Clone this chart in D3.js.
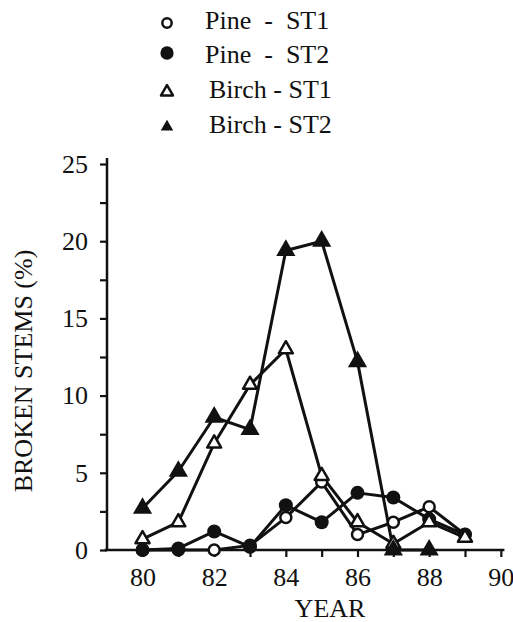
<!DOCTYPE html>
<html><head><meta charset="utf-8">
<script src="https://cdn.jsdelivr.net/npm/d3@7"></script>
<style>body{margin:0;background:#fff}svg{display:block}</style>
</head><body><svg id="c" width="513" height="622" font-family="Liberation Serif"></svg>
<script>
const years = [80,81,82,83,84,85,86,87,88,89];
const pineST1 = [0, 0, 0, 0.3, 2.1, 4.4, 1.0, 1.8, 2.8, 1.0];
const pineST2 = [0, 0.1, 1.2, 0.2, 2.9, 1.8, 3.7, 3.4, 2.0, 1.0];
const birchST1 = [0.7, 1.8, 6.9, 10.7, 13.0, 4.8, 1.8, 0.4, 1.8, 0.8];
const birchST2Years = [80,81,82,83,84,85,86,87,88];
const birchST2 = [2.7, 5.1, 8.6, 7.8, 19.4, 20.0, 12.2, 0, 0];
const yTicks = [0,2.5,5,7.5,10,12.5,15,17.5,20,22.5,25];
const xTicks = [80,81,82,83,84,85,86,87,88,89,90];
const legendLabels = ["Pine  -  ST1","Pine  -  ST2","Birch - ST1","Birch - ST2"];

const FONT = "Liberation Serif";
const FS = 26;
const svg = d3.select("#c");
const x = d3.scaleLinear().domain([79, 90.1]).range([106.7, 504.4]);
const y = d3.scaleLinear().domain([0, 25]).range([550, 164]);
const ink = "#111";

// axes
const ya = svg.append("g").attr("transform","translate(107,0)")
  .call(d3.axisLeft(y).tickValues(yTicks).tickSize(7).tickPadding(12)
    .tickFormat(d => d % 5 === 0 ? d : ""));
ya.select(".domain").attr("d", `M0,${y(0)+1}V${y(25)-6}`);
const xa = svg.append("g").attr("transform",`translate(0,${y(0)})`)
  .call(d3.axisBottom(x).tickValues(xTicks).tickSize(7).tickPadding(11)
    .tickFormat(d => d % 2 === 0 ? d : ""));
xa.select(".domain").attr("d", `M${x(79)-2},0H${x(90.1)}`);
svg.selectAll("g").attr("font-family", FONT).attr("font-size", FS);
svg.selectAll(".domain").attr("stroke", ink).attr("stroke-width", 2.5);
svg.selectAll(".tick line").attr("stroke", ink).attr("stroke-width", 2.2);
svg.selectAll(".tick text").attr("font-size", FS).attr("font-family", FONT).attr("fill", ink);

svg.append("text").attr("x", 330).attr("y", 617).attr("text-anchor","middle")
  .attr("font-size", FS).attr("font-family", FONT).attr("fill", ink).text("YEAR");
svg.append("text").attr("transform","translate(32,371) rotate(-90)").attr("text-anchor","middle")
  .attr("font-size", FS).attr("font-family", FONT).attr("fill", ink).text("BROKEN STEMS (%)");

const line = d3.line().x(d => x(d[0])).y(d => y(d[1]));
const series = [
  {xs: years, vs: pineST1, type: "circle", fill: false},
  {xs: years, vs: pineST2, type: "circle", fill: true},
  {xs: years, vs: birchST1, type: "tri", fill: false},
  {xs: birchST2Years, vs: birchST2, type: "tri", fill: true}
];
series.forEach(s => {
  svg.append("path").datum(s.xs.map((v,i)=>[v, s.vs[i]]))
    .attr("d", line).attr("fill","none").attr("stroke", ink).attr("stroke-width", 3)
    .attr("stroke-linejoin","round");
});
function marker(g, s, cx, cy, scale) {
  scale = scale || 1;
  if (s.type === "circle") {
    g.append("circle").attr("cx", cx).attr("cy", cy)
      .attr("r", (s.fill ? 7 : 5.5) * scale)
      .attr("fill", s.fill ? ink : "#fff").attr("stroke", ink).attr("stroke-width", s.fill ? 0 : 2.5);
  } else {
    const sym = d3.symbol().type(d3.symbolTriangle).size((s.fill ? 160 : 85) * scale * scale);
    g.append("path").attr("d", sym()).attr("transform", `translate(${cx},${cy})`)
      .attr("fill", s.fill ? ink : "#fff").attr("stroke", ink).attr("stroke-width", s.fill ? 0 : 2.5)
      .attr("stroke-linejoin","round");
  }
}
const mg = svg.append("g");
series.forEach(s => s.xs.forEach((v,i) => marker(mg, s, x(v), y(s.vs[i]))));

// legend
const legMarkY = [23, 53, 92, 127];
const legBase = [29, 63, 98, 133];
const legTextX = [205, 205, 209, 209];
const legScale = [0.85, 0.95, 0.85, 0.65];
const lg = svg.append("g");
series.forEach((s,i) => {
  marker(lg, s, 167, legMarkY[i], legScale[i]);
  lg.append("text").attr("x", legTextX[i]).attr("y", legBase[i]).attr("font-size", FS)
    .attr("font-family", FONT).attr("fill", ink).attr("xml:space","preserve")
    .style("white-space","pre").text(legendLabels[i]);
});
</script></body></html>
